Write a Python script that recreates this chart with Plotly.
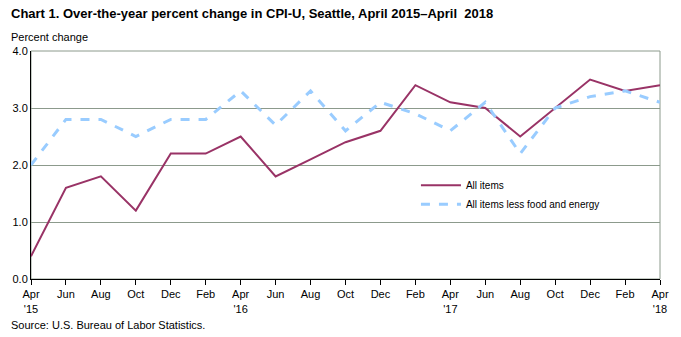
import plotly.graph_objects as go

months = ["Apr<br>'15", "Jun", "Aug", "Oct", "Dec", "Feb", "Apr<br>'16", "Jun", "Aug", "Oct",
          "Dec", "Feb", "Apr<br>'17", "Jun", "Aug", "Oct", "Dec", "Feb", "Apr<br>'18"]
all_items = [0.4, 1.6, 1.8, 1.2, 2.2, 2.2, 2.5, 1.8, 2.1, 2.4, 2.6, 3.4, 3.1, 3.0, 2.5, 3.0, 3.5, 3.3, 3.4]
core = [2.0, 2.8, 2.8, 2.5, 2.8, 2.8, 3.3, 2.7, 3.3, 2.6, 3.1, 2.9, 2.6, 3.1, 2.2, 3.0, 3.2, 3.3, 3.1]
y_ticks = [0.0, 1.0, 2.0, 3.0, 4.0]

x = list(range(len(months)))
font = "Liberation Sans, Arial, sans-serif"

fig = go.Figure()
fig.add_trace(go.Scatter(x=x, y=all_items, mode="lines", name="All items",
                         line=dict(color="#993366", width=2)))
fig.add_trace(go.Scatter(x=x, y=core, mode="lines", name="All items less food and energy",
                         line=dict(color="#99CCFF", width=3, dash="dash")))

fig.update_layout(
    width=681, height=337,
    margin=dict(l=31, r=17, t=51, b=58),
    paper_bgcolor="white", plot_bgcolor="white",
    font=dict(family=font, size=11, color="black"),
    showlegend=True,
    legend=dict(x=0.612, y=0.475, xanchor="left", yanchor="top", bgcolor="rgba(0,0,0,0)",
                font=dict(size=10), tracegroupgap=0, itemwidth=40),
    xaxis=dict(range=[0, 18], tickmode="array", tickvals=x, ticktext=months,
               showgrid=False, showline=True, linecolor="black", linewidth=1,
               ticks="outside", ticklen=5, tickcolor="black", zeroline=False,
               tickfont=dict(size=11)),
    yaxis=dict(range=[0, 4], tickmode="array", tickvals=y_ticks,
               ticktext=[f"{v:.1f}" for v in y_ticks],
               showgrid=True, gridcolor="#8C9A8C", gridwidth=1,
               showline=True, linecolor="black", linewidth=1, zeroline=False,
               ticks="", tickfont=dict(size=11)),
    shapes=[dict(type="rect", xref="paper", yref="paper", x0=0, x1=1, y0=0, y1=1,
                 line=dict(color="#8C9A8C", width=1), layer="below")],
    annotations=[
        dict(text="<b>Chart 1. Over-the-year percent change in CPI-U, Seattle, April 2015\u2013April  2018</b>",
             xref="paper", yref="paper", x=-0.035, y=1.0, xanchor="left", yanchor="bottom",
             yshift=28, showarrow=False, font=dict(size=13)),
        dict(text="Percent change", xref="paper", yref="paper", x=-0.035, y=1.0,
             xanchor="left", yanchor="bottom", yshift=6, showarrow=False, font=dict(size=11)),
        dict(text="Source: U.S. Bureau of Labor Statistics.", xref="paper", yref="paper",
             x=-0.035, y=0, xanchor="left", yanchor="top", yshift=-38, showarrow=False,
             font=dict(size=11)),
    ],
)

fig.write_html("out.html")
